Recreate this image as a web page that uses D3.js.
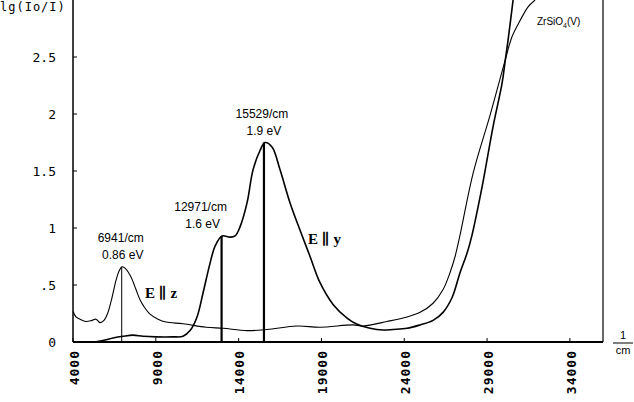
<!DOCTYPE html>
<html>
<head>
<meta charset="utf-8">
<script src="https://cdn.jsdelivr.net/npm/d3@7"></script>
<style>
html,body{margin:0;padding:0;background:#fff;}
svg{display:block;}
</style>
</head>
<body>
<svg id="chart" width="634" height="402"></svg>
<script>
// ---- data ----
const xTicks = [4000, 9000, 14000, 19000, 24000, 29000, 34000];
const xTickLabels = ["4000", "9000", "14000", "19000", "24000", "29000", "34000"];
const yTicks = [0, 0.5, 1, 1.5, 2, 2.5];
const yTickLabels = ["0", ".5", "1", "1.5", "2", "2.5"];

// E || z spectrum (thin)
const ezCm  = [4000,4181,4423,4785,5147,5389,5630,5872,6114,6355,6597,6778,6960,7200,7502,7804,8046,8287,8650,9133,9616,10643,12031,13058,14507,15715,17527,18916,20909,21513,22962,24170,24955,25740,26344,26767,27069,27371,28156,29182,30088,30511,30994,31477,31900];
const ezVal = [0.27,0.22,0.20,0.18,0.19,0.20,0.17,0.19,0.26,0.39,0.54,0.62,0.66,0.64,0.57,0.46,0.37,0.31,0.245,0.20,0.175,0.16,0.13,0.12,0.10,0.11,0.14,0.13,0.15,0.14,0.18,0.22,0.26,0.34,0.46,0.61,0.75,0.94,1.48,1.99,2.47,2.68,2.82,2.94,3.0];

// E || y spectrum (thick)
const eyCm  = [5330,5993,6416,7019,7623,8227,9012,10039,10643,11066,11489,11851,12273,12575,12998,13481,13783,14085,14507,14870,15293,15595,16018,16501,17105,17709,18313,18916,19701,20547,21151,21936,22721,23325,24170,24955,25740,26344,26888,27371,27794,28095,28699,29363,29907,30088,30270,30572];
const eyVal = [0,0.02,0.035,0.05,0.06,0.05,0.045,0.045,0.05,0.1,0.22,0.43,0.69,0.84,0.93,0.92,0.93,1.01,1.22,1.51,1.68,1.75,1.71,1.51,1.22,0.98,0.75,0.52,0.33,0.21,0.155,0.12,0.105,0.11,0.12,0.15,0.19,0.26,0.39,0.61,0.78,0.94,1.36,1.89,2.27,2.46,2.65,3.0];

// peak markers
const peakCm = [6941, 12971, 15529];
const peakVal = [0.66, 0.93, 1.75];
const peakLabel1 = ["6941/cm", "12971/cm", "15529/cm"];
const peakLabel2 = ["0.86 eV", "1.6 eV", "1.9 eV"];

// ---- drawing ----
const svg = d3.select("#chart");
const x = d3.scaleLinear().domain([4000, 36000]).range([73, 603]);
const y = d3.scaleLinear().domain([0, 3]).range([342, 0]);

const mono = "'DejaVu Sans Mono', 'Liberation Mono', monospace";
const sans = "'Liberation Sans', Arial, sans-serif";
const serif = "'Liberation Serif', 'DejaVu Serif', serif";

// frame
svg.append("line").attr("x1", x(4000)).attr("x2", x(4000)).attr("y1", y(3)).attr("y2", y(0))
  .attr("stroke", "#000").attr("stroke-width", 1.5);
svg.append("line").attr("x1", x(4000)).attr("x2", x(36000)).attr("y1", y(0)).attr("y2", y(0))
  .attr("stroke", "#000").attr("stroke-width", 2);
svg.append("line").attr("x1", x(36000)).attr("x2", x(36000)).attr("y1", y(3)).attr("y2", y(0))
  .attr("stroke", "#000").attr("stroke-width", 1.2);

// x ticks
const xAxis = svg.append("g");
xAxis.selectAll("line").data(xTicks).join("line")
  .attr("x1", d => x(d)).attr("x2", d => x(d))
  .attr("y1", y(0)).attr("y2", y(0) - 4)
  .attr("stroke", "#000").attr("stroke-width", 1);
xAxis.selectAll("text").data(xTicks).join("text")
  .attr("transform", d => `translate(${x(d) + 1},350) rotate(-90)`)
  .attr("text-anchor", "end")
  .attr("dy", "0.36em")
  .attr("font-family", mono).attr("font-size", 13).attr("font-weight", "bold")
  .attr("letter-spacing", 1)
  .text((d, i) => xTickLabels[i]);

// y ticks
const yAxis = svg.append("g");
yAxis.selectAll("line").data(yTicks.filter(d => d > 0)).join("line")
  .attr("x1", x(4000)).attr("x2", x(4000) + 4)
  .attr("y1", d => y(d)).attr("y2", d => y(d))
  .attr("stroke", "#000").attr("stroke-width", 1);
yAxis.selectAll("text").data(yTicks).join("text")
  .attr("x", 56).attr("y", d => y(d))
  .attr("text-anchor", "end").attr("dy", "0.36em")
  .attr("font-family", mono).attr("font-size", 13)
  .text((d, i) => yTickLabels[i]);

// axis titles
svg.append("text").attr("x", 0).attr("y", 11)
  .attr("font-family", mono).attr("font-size", 12).attr("letter-spacing", 1)
  .text("lg(Io/I)");
svg.append("text").attr("x", 623).attr("y", 339).attr("text-anchor", "middle")
  .attr("font-family", sans).attr("font-size", 11).text("1");
svg.append("line").attr("x1", 613).attr("x2", 633).attr("y1", 343).attr("y2", 343)
  .attr("stroke", "#000").attr("stroke-width", 1);
svg.append("text").attr("x", 623).attr("y", 354).attr("text-anchor", "middle")
  .attr("font-family", sans).attr("font-size", 11).text("cm");

// clip for curves
svg.append("clipPath").attr("id", "clip").append("rect")
  .attr("x", x(4000)).attr("y", 0).attr("width", x(36000) - x(4000)).attr("height", y(0));

const line = d3.line().x(d => x(d[0])).y(d => y(d[1])).curve(d3.curveCatmullRom.alpha(0.5));
const ez = ezCm.map((c, i) => [c, ezVal[i]]);
const ey = eyCm.map((c, i) => [c, eyVal[i]]);

const g = svg.append("g").attr("clip-path", "url(#clip)");
g.append("path").attr("d", line(ez)).attr("fill", "none").attr("stroke", "#000").attr("stroke-width", 1.1);
g.append("path").attr("d", line(ey)).attr("fill", "none").attr("stroke", "#000").attr("stroke-width", 1.6);

// peak markers
const pk = svg.append("g");
pk.selectAll("line").data(peakCm).join("line")
  .attr("x1", d => x(d)).attr("x2", d => x(d))
  .attr("y1", y(0)).attr("y2", (d, i) => y(peakVal[i]))
  .attr("stroke", "#000").attr("stroke-width", (d, i) => i === 0 ? 1 : 2.2);

const off = [-1, -21, -2];
pk.selectAll("text.l1").data(peakCm).join("text").attr("class", "l1")
  .attr("x", (d, i) => x(d) + off[i]).attr("y", (d, i) => y(peakVal[i]) - 25)
  .attr("text-anchor", "middle").attr("font-family", sans).attr("font-size", 12)
  .text((d, i) => peakLabel1[i]);
pk.selectAll("text.l2").data(peakCm).join("text").attr("class", "l2")
  .attr("x", (d, i) => x(d) + off[i] + 2).attr("y", (d, i) => y(peakVal[i]) - 8)
  .attr("text-anchor", "middle").attr("font-family", sans).attr("font-size", 12)
  .text((d, i) => peakLabel2[i]);

// series labels
svg.append("text").attr("x", 145).attr("y", 298)
  .attr("font-family", serif).attr("font-size", 15).attr("font-weight", "bold")
  .text("E ∥ z");
svg.append("text").attr("x", 308).attr("y", 244)
  .attr("font-family", serif).attr("font-size", 15).attr("font-weight", "bold")
  .text("E ∥ y");
const zr = svg.append("text").attr("x", 537).attr("y", 25)
  .attr("font-family", sans).attr("font-size", 10);
zr.append("tspan").text("ZrSiO");
zr.append("tspan").attr("font-size", 7).attr("dy", 3).text("4");
zr.append("tspan").attr("dy", -3).text("(V)");
</script>
</body>
</html>
